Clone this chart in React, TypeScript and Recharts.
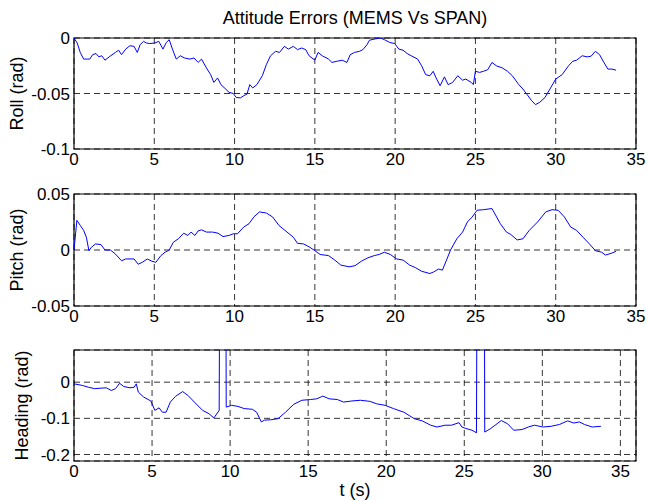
import { LineChart, Line, XAxis, YAxis, CartesianGrid, ReferenceArea, Label } from "recharts";

// ─────────────────────────────────────────
// DATA
// ─────────────────────────────────────────

const rollTime = [
  0, 0.2, 0.39, 0.6, 0.82, 0.98, 1.16, 1.37, 1.55, 1.73,
  1.93, 2.19, 2.58, 2.78, 2.96, 3.22, 3.48, 3.74, 3.94, 4.12,
  4.33, 4.51, 4.72, 5.03, 5.28, 5.54, 5.75, 5.93, 6.13, 6.37,
  6.62, 6.88, 7.22, 7.47, 7.73, 7.94, 8.25, 8.51, 8.71, 8.94,
  9.15, 9.41, 9.66, 9.92, 10.1, 10.36, 10.57, 10.77, 10.95, 11.13,
  11.39, 11.73, 11.98, 12.24, 12.55, 12.8, 13.1, 13.35, 13.66, 13.92,
  14.18, 14.43, 14.64, 15.0, 15.2, 15.46, 15.85, 16.06, 16.37, 16.7,
  17.0, 17.2, 17.47, 17.78, 17.99, 18.25, 18.4, 18.7, 19.07, 19.33,
  19.66, 19.97, 20.23, 20.49, 20.75, 21.0, 21.4, 21.65, 21.9, 22.16,
  22.37, 22.55, 22.8, 23.07, 23.3, 23.58, 23.9, 24.2, 24.4, 24.74,
  24.87, 25.0, 25.26, 25.5, 25.77, 26.03, 26.3, 26.68, 27.0, 27.3,
  27.7, 27.96, 28.2, 28.5, 28.74, 29.0, 29.33, 29.64, 30.0, 30.4,
  30.8, 31.06, 31.3, 31.65, 31.96, 32.2, 32.47, 32.73, 33.0, 33.25,
  33.5, 33.76,
];
const rollError = [
  0, -0.0045, -0.013, -0.019, -0.019, -0.019, -0.015, -0.014, -0.017, -0.016,
  -0.02, -0.017, -0.013, -0.011, -0.015, -0.01, -0.007, -0.0075, -0.013, -0.006,
  -0.003, -0.0045, -0.005, -0.0045, -0.003, -0.01, -0.004, -0.0015, -0.01, -0.019,
  -0.016, -0.018, -0.019, -0.018, -0.022, -0.019, -0.027, -0.033, -0.04, -0.036,
  -0.042, -0.0455, -0.049, -0.05, -0.0535, -0.054, -0.052, -0.0506, -0.042, -0.045,
  -0.042, -0.034, -0.024, -0.016, -0.012, -0.013, -0.0075, -0.01, -0.0075, -0.0105,
  -0.009, -0.0105, -0.016, -0.02, -0.013, -0.016, -0.019, -0.022, -0.021, -0.02,
  -0.022, -0.015, -0.013, -0.012, -0.0105, -0.006, -0.002, -0.001, 0, -0.0015,
  -0.004, -0.005, -0.01, -0.011, -0.014, -0.016, -0.019, -0.025, -0.033, -0.034,
  -0.03, -0.036, -0.043, -0.035, -0.042, -0.04, -0.034, -0.038, -0.037, -0.04,
  -0.042, -0.03, -0.031, -0.03, -0.0285, -0.022, -0.025, -0.027, -0.03, -0.034,
  -0.042, -0.046, -0.0506, -0.0565, -0.06, -0.058, -0.0536, -0.046, -0.037, -0.033,
  -0.025, -0.021, -0.02, -0.016, -0.017, -0.0164, -0.012, -0.015, -0.022, -0.028,
  -0.028, -0.029,
];

const pitchTime = [
  0, 0.18, 0.39, 0.6, 0.77, 0.93, 1.08, 1.34, 1.68, 1.93,
  2.27, 2.58, 2.96, 3.22, 3.74, 4.0, 4.25, 4.56, 4.85, 5.1,
  5.41, 5.67, 5.93, 6.19, 6.5, 6.83, 7.09, 7.29, 7.53, 7.73,
  7.94, 8.25, 8.63, 8.97, 9.28, 9.66, 9.92, 10.18, 10.57, 10.9,
  11.2, 11.55, 11.98, 12.37, 12.76, 13.14, 13.66, 13.92, 14.3, 14.69,
  15.0, 15.33, 15.85, 16.24, 16.62, 17.14, 17.5, 17.9, 18.3, 18.7,
  19.0, 19.33, 19.7, 20.1, 20.5, 20.9, 21.26, 21.65, 22.16, 22.4,
  22.7, 22.94, 23.2, 23.45, 23.84, 24.2, 24.5, 24.8, 25.1, 25.5,
  26.03, 26.55, 26.93, 27.2, 27.6, 27.96, 28.35, 28.87, 29.38, 29.77,
  30.15, 30.54, 30.93, 31.3, 31.7, 32.1, 32.47, 32.86, 33.1, 33.45,
  33.76,
];
const pitchError = [
  0, 0.0265, 0.022, 0.0175, 0.0114, -0.0006, 0.0024, 0.0054, 0.0048, 0,
  0, -0.0036, -0.0096, -0.008, -0.008, -0.0127, -0.011, -0.008, -0.01, -0.011,
  -0.005, -0.002, 0, 0.007, 0.01, 0.015, 0.013, 0.016, 0.013, 0.017,
  0.018, 0.016, 0.016, 0.015, 0.012, 0.013, 0.0145, 0.0145, 0.0205, 0.0235,
  0.0295, 0.034, 0.033, 0.0295, 0.022, 0.0175, 0.0114, 0.006, 0.0054, 0.0024,
  -0.0006, -0.004, -0.005, -0.009, -0.0135, -0.015, -0.014, -0.01, -0.007, -0.005,
  -0.004, -0.002, -0.004, -0.008, -0.009, -0.0135, -0.0157, -0.019, -0.021, -0.0196,
  -0.017, -0.018, -0.009, 0, 0.01, 0.016, 0.025, 0.0295, 0.0355, 0.036,
  0.037, 0.0235, 0.016, 0.0139, 0.009, 0.01, 0.0175, 0.025, 0.034, 0.036,
  0.0355, 0.0295, 0.0205, 0.0175, 0.0114, 0.0054, -0.0006, -0.002, -0.0045, -0.003,
  -0.0012,
];

// the two spikes run off the top of the heading axes (wrap-around jumps)
const headingTime = [
  0, 0.53, 0.93, 1.33, 1.73, 2.07, 2.39, 2.66, 2.92, 3.19,
  3.59, 3.85, 3.99, 4.12, 4.46, 4.92, 5.18, 5.45, 5.66, 5.9,
  6.17, 6.51, 6.96, 7.31, 7.71, 8.24, 8.64, 8.96, 9.3, 9.35,
  9.72, 9.75, 10.1, 10.5, 10.9, 11.43, 11.7, 11.9, 12.0, 12.2,
  12.6, 13.07, 13.55, 14.08, 14.6, 15.15, 15.55, 15.94, 16.34, 16.87,
  17.27, 17.8, 18.34, 18.95, 19.4, 19.93, 20.46, 21.13, 21.8, 22.3,
  22.85, 23.25, 23.78, 24.18, 24.66, 24.85, 25.1, 25.5, 25.78, 25.83,
  26.28, 26.31, 26.7, 27.1, 27.37, 27.77, 28.17, 28.7, 29.1, 29.5,
  30.03, 30.56, 31.1, 31.62, 32.02, 32.37, 32.7, 33.2, 33.75,
];
const headingError = [
  -0.0046, -0.009, -0.014, -0.018, -0.0165, -0.0156, -0.023, -0.018, -0.003, -0.012,
  -0.0156, -0.014, -0.0046, -0.0275, -0.041, -0.052, -0.078, -0.071, -0.083, -0.083,
  -0.055, -0.039, -0.026, -0.037, -0.055, -0.078, -0.087, -0.099, -0.078, 0.5,
  0.5, -0.069, -0.064, -0.067, -0.073, -0.075, -0.083, -0.101, -0.11, -0.105,
  -0.104, -0.101, -0.083, -0.061, -0.05, -0.048, -0.046, -0.0385, -0.046, -0.048,
  -0.055, -0.052, -0.05, -0.053, -0.06, -0.064, -0.073, -0.083, -0.101, -0.107,
  -0.119, -0.124, -0.119, -0.119, -0.112, -0.124, -0.128, -0.133, -0.14, 0.5,
  0.5, -0.138, -0.128, -0.115, -0.106, -0.115, -0.133, -0.131, -0.124, -0.119,
  -0.124, -0.122, -0.117, -0.107, -0.113, -0.11, -0.117, -0.124, -0.122,
];

const timeTicks = [0, 5, 10, 15, 20, 25, 30, 35];
const rollTicks = [-0.1, -0.05, 0];
const pitchTicks = [-0.05, 0, 0.05];
const headingTicks = [-0.2, -0.1, 0];

// ─────────────────────────────────────────
// PANEL
// ─────────────────────────────────────────

const FONT = '"Liberation Sans", Arial, Helvetica, sans-serif';
const PLOT_LEFT = 74;
const PLOT_RIGHT = 636;
const WIDTH = 648;

interface PanelProps {
  time: number[];
  values: number[];
  xDomain: [number, number];
  yDomain: [number, number];
  yTicks: number[];
  yLabel: string;
  yLabelX: number;
  top: number;
  marginTop: number;
  plotHeight: number;
  xAxisHeight: number;
  xLabel?: string;
}

const Panel = (p: PanelProps) => {
  const data = p.time.map((t, i) => ({ t, v: p.values[i] }));
  const height = p.marginTop + p.plotHeight + p.xAxisHeight;
  const cy = p.marginTop + p.plotHeight / 2;
  const cx = (PLOT_LEFT + PLOT_RIGHT) / 2;

  return (
    <div style={{ position: "absolute", left: 0, top: p.top, width: WIDTH, height }}>
      <LineChart
        width={WIDTH}
        height={height}
        data={data}
        margin={{ top: p.marginTop, right: WIDTH - PLOT_RIGHT, left: 0, bottom: 0 }}
      >
        <CartesianGrid stroke="#000" strokeDasharray="6 4" strokeWidth={0.8} />
        <XAxis
          dataKey="t"
          type="number"
          domain={p.xDomain}
          ticks={timeTicks}
          height={p.xAxisHeight}
          axisLine={false}
          tickLine={false}
          tickSize={0}
          tickMargin={4}
          tick={{ fontSize: 17, fill: "#000", fontFamily: FONT }}
          interval={0}
        >
          {p.xLabel && (
            <Label
              content={() => (
                <text x={cx} y={height - 5} textAnchor="middle" fontSize={18} fontFamily={FONT} fill="#000">
                  {p.xLabel}
                </text>
              )}
            />
          )}
        </XAxis>
        <YAxis
          type="number"
          domain={p.yDomain}
          ticks={p.yTicks}
          width={PLOT_LEFT}
          allowDataOverflow
          axisLine={false}
          tickLine={false}
          tickSize={0}
          tickMargin={4}
          interval={0}
          tickFormatter={(v: number) => String(v)}
          tick={{ fontSize: 17, fill: "#000", fontFamily: FONT }}
        >
          <Label
            content={() => (
              <text
                x={p.yLabelX}
                y={cy}
                transform={`rotate(-90, ${p.yLabelX}, ${cy})`}
                textAnchor="middle"
                fontSize={18}
                fontFamily={FONT}
                fill="#000"
              >
                {p.yLabel}
              </text>
            )}
          />
        </YAxis>
        <Line
          type="linear"
          dataKey="v"
          stroke="#0000ff"
          strokeWidth={1}
          dot={false}
          activeDot={false}
          isAnimationActive={false}
        />
        {/* axes box */}
        <ReferenceArea
          x1={p.xDomain[0]}
          x2={p.xDomain[1]}
          y1={p.yDomain[0]}
          y2={p.yDomain[1]}
          fill="none"
          stroke="#000"
          strokeWidth={1.2}
          ifOverflow="visible"
        />
      </LineChart>
    </div>
  );
};

// ─────────────────────────────────────────
// APP
// ─────────────────────────────────────────

const App = () => (
  <div
    style={{
      position: "absolute",
      left: 0,
      top: 0,
      width: WIDTH,
      height: 501,
      background: "#fff",
      overflow: "hidden",
    }}
  >
    <div
      style={{
        position: "absolute",
        left: PLOT_LEFT,
        width: PLOT_RIGHT - PLOT_LEFT,
        top: 6,
        textAlign: "center",
        fontFamily: FONT,
        fontSize: 18,
        lineHeight: "24px",
        color: "#000",
      }}
    >
      Attitude Errors (MEMS Vs SPAN)
    </div>
    <Panel
      time={rollTime}
      values={rollError}
      xDomain={[0, 35]}
      yDomain={[-0.1, 0]}
      yTicks={rollTicks}
      yLabel="Roll (rad)"
      yLabelX={23}
      top={0}
      marginTop={38}
      plotHeight={111}
      xAxisHeight={30}
    />
    <Panel
      time={pitchTime}
      values={pitchError}
      xDomain={[0, 35]}
      yDomain={[-0.05, 0.05]}
      yTicks={pitchTicks}
      yLabel="Pitch (rad)"
      yLabelX={23}
      top={160}
      marginTop={34}
      plotHeight={112}
      xAxisHeight={30}
    />
    <Panel
      time={headingTime}
      values={headingError}
      xDomain={[0, 36]}
      yDomain={[-0.218, 0.089]}
      yTicks={headingTicks}
      yLabel="Heading (rad)"
      yLabelX={28}
      top={320}
      marginTop={30}
      plotHeight={111}
      xAxisHeight={40}
      xLabel="t (s)"
    />
  </div>
);

export default App;
